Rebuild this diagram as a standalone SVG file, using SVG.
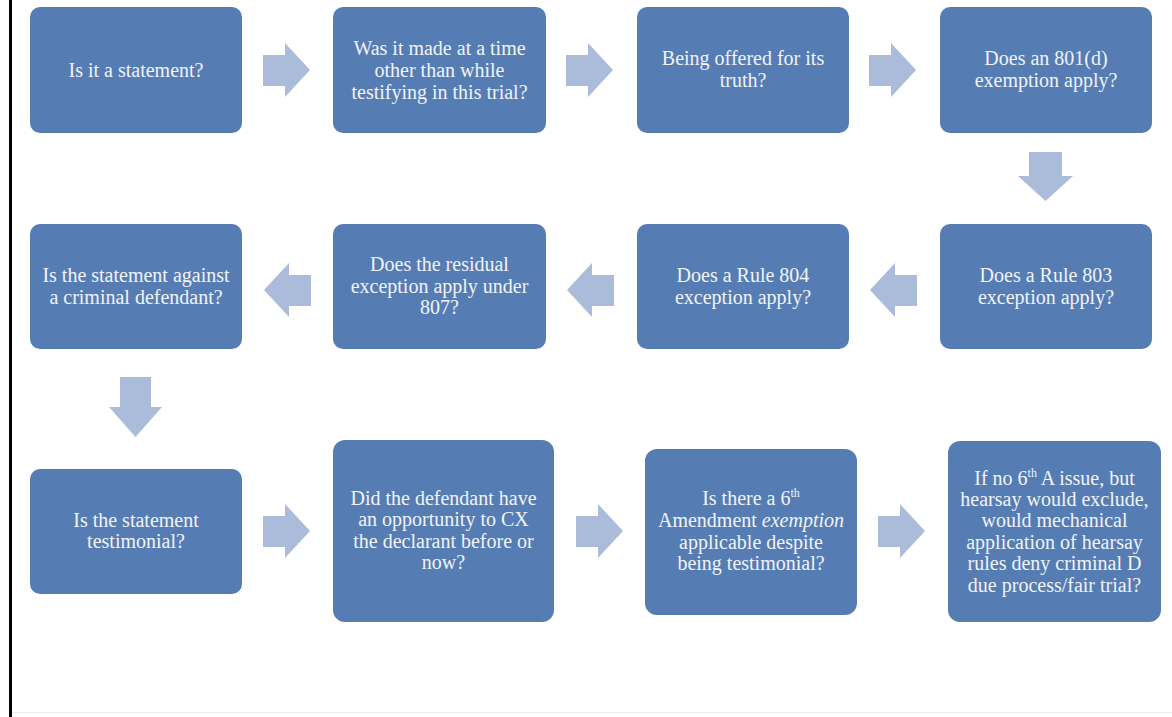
<svg xmlns="http://www.w3.org/2000/svg" width="1172" height="717" viewBox="0 0 1172 717">
<style>
.box{fill:#557db4;}
.arr{fill:#abbcda;}
text{font-family:"Liberation Serif","Times New Roman",serif;font-size:20px;fill:#f1f3f7;text-anchor:middle;}
</style>
<rect width="1172" height="717" fill="#ffffff"/>
<line x1="10.5" y1="0" x2="10.5" y2="717" stroke="#000" stroke-width="3"/>
<line x1="12" y1="712.5" x2="1172" y2="712.5" stroke="#ececec" stroke-width="1"/>
<g id="connectors">
<polygon class="arr" points="263,55 285,55 285,43 310,70 285,97 285,86 263,86"/>
<polygon class="arr" points="566,55 588,55 588,43 613,70 588,97 588,86 566,86"/>
<polygon class="arr" points="869,55 891,55 891,43 916,70 891,97 891,86 869,86"/>
<polygon class="arr" points="1029,152 1062,152 1062,176 1073,176 1045.5,201 1018,176 1029,176"/>
<polygon class="arr" points="917,275 895,275 895,263 870,290 895,317 895,306 917,306"/>
<polygon class="arr" points="614,275 592,275 592,263 567,290 592,317 592,306 614,306"/>
<polygon class="arr" points="311,275 289,275 289,263 264,290 289,317 289,306 311,306"/>
<polygon class="arr" points="120,377 151,377 151,407 162,407 135.5,437 109,407 120,407"/>
<polygon class="arr" points="263,516 285,516 285,504 310,531 285,558 285,547 263,547"/>
<polygon class="arr" points="576,516 598,516 598,504 623,531 598,558 598,547 576,547"/>
<polygon class="arr" points="878,516 900,516 900,504 925,531 900,558 900,547 878,547"/>
</g>
<g id="n1"><rect class="box" x="30" y="7" width="212" height="126" rx="10"/>
<text x="136" y="77">Is it a statement?</text></g>
<g id="n2"><rect class="box" x="333" y="7" width="213" height="126" rx="10"/>
<text x="439.5" y="55">Was it made at a time</text><text x="439.5" y="77">other than while</text><text x="439.5" y="99">testifying in this trial?</text></g>
<g id="n3"><rect class="box" x="637" y="7" width="212" height="126" rx="10"/>
<text x="743" y="65">Being offered for its</text><text x="743" y="87">truth?</text></g>
<g id="n4"><rect class="box" x="940" y="7" width="212" height="126" rx="10"/>
<text x="1046" y="65">Does an 801(d)</text><text x="1046" y="87">exemption apply?</text></g>
<g id="n5"><rect class="box" x="940" y="224" width="212" height="125" rx="10"/>
<text x="1046" y="282">Does a Rule 803</text><text x="1046" y="304">exception apply?</text></g>
<g id="n6"><rect class="box" x="637" y="224" width="212" height="125" rx="10"/>
<text x="743" y="282">Does a Rule 804</text><text x="743" y="304">exception apply?</text></g>
<g id="n7"><rect class="box" x="333" y="224" width="213" height="125" rx="10"/>
<text x="439.5" y="271">Does the residual</text><text x="439.5" y="293">exception apply under</text><text x="439.5" y="314">807?</text></g>
<g id="n8"><rect class="box" x="30" y="224" width="212" height="125" rx="10"/>
<text x="136" y="282">Is the statement against</text><text x="136" y="304">a criminal defendant?</text></g>
<g id="n9"><rect class="box" x="30" y="469" width="212" height="125" rx="10"/>
<text x="136" y="527">Is the statement</text><text x="136" y="548">testimonial?</text></g>
<g id="n10"><rect class="box" x="333" y="440" width="221" height="182" rx="12"/>
<text x="443.5" y="505">Did the defendant have</text><text x="443.5" y="526">an opportunity to CX</text><text x="443.5" y="548">the declarant before or</text><text x="443.5" y="569">now?</text></g>
<g id="n11"><rect class="box" x="645" y="449" width="212" height="166" rx="12"/>
<text x="751" y="505">Is there a 6<tspan font-size="12" dy="-8">th</tspan></text><text x="751" y="527">Amendment <tspan font-style="italic">exemption</tspan></text><text x="751" y="549">applicable despite</text><text x="751" y="570">being testimonial?</text></g>
<g id="n12"><rect class="box" x="948" y="441" width="213" height="181" rx="12"/>
<text x="1054.5" y="485">If no 6<tspan font-size="12" dy="-8">th</tspan><tspan dy="8"> A issue, but</tspan></text><text x="1054.5" y="506">hearsay would exclude,</text><text x="1054.5" y="527">would mechanical</text><text x="1054.5" y="549">application of hearsay</text><text x="1054.5" y="570">rules deny criminal D</text><text x="1054.5" y="592">due process/fair trial?</text></g>
</svg>
